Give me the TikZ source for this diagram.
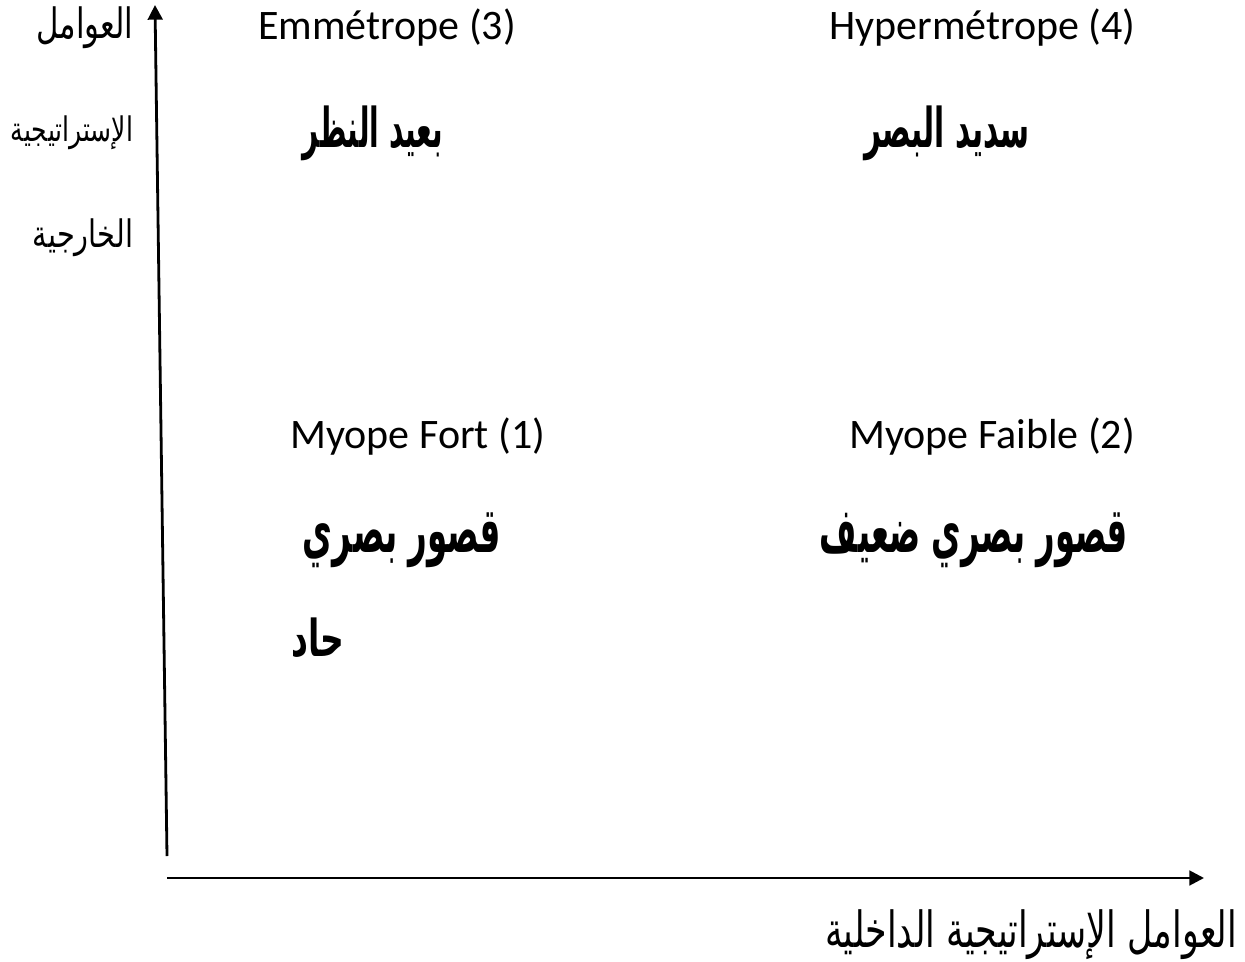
\documentclass[tikz,border=0pt]{standalone}
\usepackage{fontspec}
\usepackage{graphicx}
\setmainfont{Carlito}
\newfontfamily\arabicfont[Script=Arabic]{DejaVu Sans}
\TeXXeTstate=1
\usetikzlibrary{arrows.meta}
\newlength\pxu
\setlength\pxu{0.75pt}
\begin{document}
\begin{tikzpicture}[x=0.75pt,y=-0.75pt,
  lat/.style={font=\fontsize{31.5}{36}\selectfont, inner sep=0pt, anchor=west},
  arab/.style={inner sep=0pt},
  axis/.style={line width=2.1pt, -{Triangle[length=11pt,width=11pt]}}]
\useasboundingbox (0,0) rectangle (1245,962);
% axes
\coordinate (vb) at (167,856);
\coordinate (vt) at (155,5);
\coordinate (hl) at (167,878);
\coordinate (hr) at (1204,878);
\draw[axis] (vb) -- (vt);
\draw[axis] (hl) -- (hr);
% left labels
\node[arab] (yl1) at (85,28) {\resizebox*{97\pxu}{42\pxu}{\arabicfont\beginR العوامل\endR}};
\node[arab] (yl2) at (72,133) {\resizebox*{122\pxu}{34\pxu}{\arabicfont\beginR الإستراتيجية\endR}};
\node[arab] (yl3) at (83,238) {\resizebox*{100\pxu}{38\pxu}{\arabicfont\beginR الخارجية\endR}};
% bottom label
\node[arab] (xl) at (1031,935) {\resizebox*{412\pxu}{50\pxu}{\arabicfont\beginR العوامل الإستراتيجية الداخلية\endR}};
% quadrant 3
\node[lat] (q3) at (258,28) {Emmétrope (3)};
\node[arab] (q3a) at (373,133) {\resizebox*{140\pxu}{55\pxu}{\arabicfont\bfseries\beginR بعيد النظر\endR}};
% quadrant 4
\node[lat] (q4) at (829,28) {Hypermétrope (4)};
\node[arab] (q4a) at (947,133) {\resizebox*{165\pxu}{55\pxu}{\arabicfont\bfseries\beginR سديد البصر\endR}};
% quadrant 1
\node[lat] (q1) at (290,437) {Myope Fort (1)};
\node[arab] (q1a) at (402,540) {\resizebox*{198\pxu}{55\pxu}{\arabicfont\bfseries\beginR قصور بصري\endR}};
\node[arab] (q1b) at (318,638) {\resizebox*{53\pxu}{40\pxu}{\arabicfont\bfseries\beginR حاد\endR}};
% quadrant 2
\node[lat] (q2) at (849,437) {Myope Faible (2)};
\node[arab] (q2a) at (974,540) {\resizebox*{308\pxu}{55\pxu}{\arabicfont\bfseries\beginR قصور بصري ضعيف\endR}};
\end{tikzpicture}
\end{document}
